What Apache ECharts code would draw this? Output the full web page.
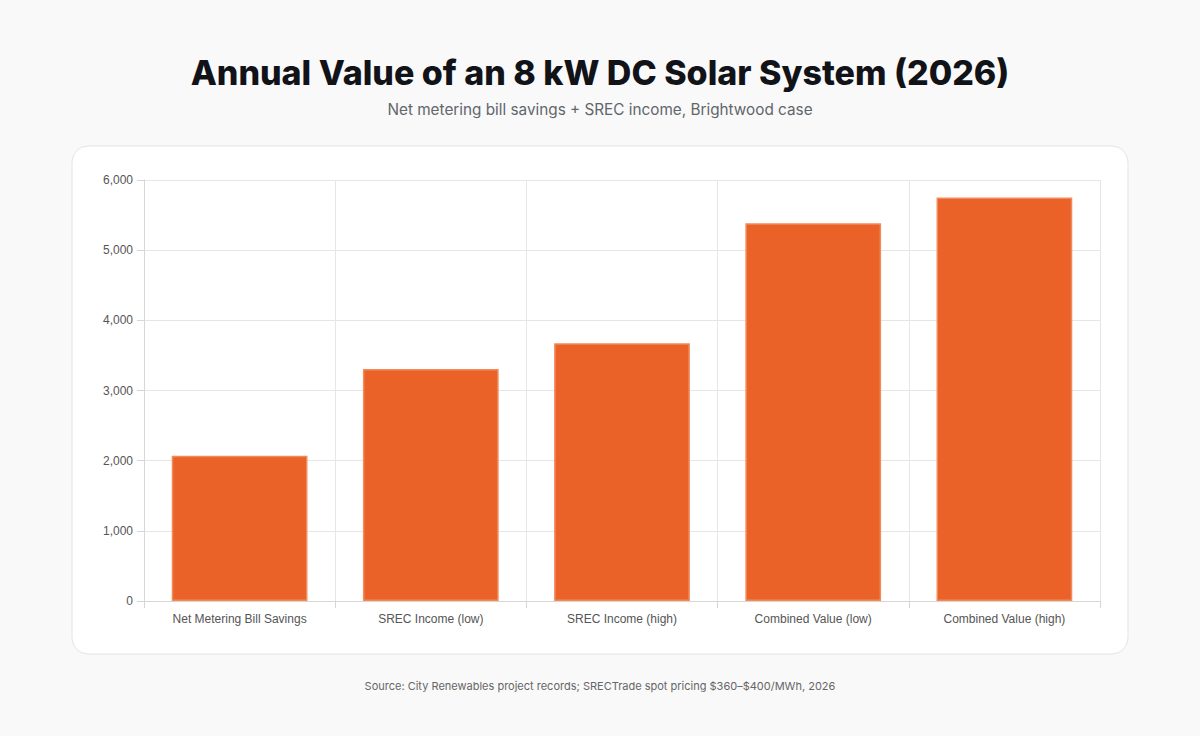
<!DOCTYPE html>
<html>
<head>
<meta charset="utf-8">
<script src="https://cdn.jsdelivr.net/npm/echarts@6/dist/echarts.min.js"></script>
<style>
  html, body { margin: 0; padding: 0; background: #f9f9f9; }
  #chart { width: 1200px; height: 736px; }
</style>
</head>
<body>
<div id="chart"></div>
<script>
const categories = ['Net Metering Bill Savings', 'SREC Income (low)', 'SREC Income (high)', 'Combined Value (low)', 'Combined Value (high)']
const values = [2070, 3305, 3672, 5385, 5750]
const yTicks = { min: 0, max: 6000, interval: 1000 }

const font = 'Inter, "Noto Sans", sans-serif'
const chart = echarts.init(document.getElementById('chart'), null, { renderer: 'svg' })

chart.setOption({
  backgroundColor: '#f9f9f9',
  title: [
    {
      text: 'Annual Value of an 8 kW DC Solar System (2026)',
      left: 'center',
      top: 50,
      textStyle: { fontFamily: font, fontSize: 34, fontWeight: 800, color: '#111318' }
    },
    {
      text: 'Net metering bill savings + SREC income, Brightwood case',
      left: 'center',
      top: 97,
      textStyle: { fontFamily: font, fontSize: 15.3, fontWeight: 400, color: '#62666b' }
    },
    {
      text: 'Source: City Renewables project records; SRECTrade spot pricing $360–$400/MWh, 2026',
      left: 'center',
      top: 675,
      textStyle: { fontFamily: font, fontSize: 11, fontWeight: 400, color: '#666' }
    }
  ],
  graphic: [{
    type: 'rect',
    z: -10,
    shape: { x: 72, y: 146, width: 1056, height: 508, r: 16 },
    style: { fill: '#ffffff', stroke: '#e3e3e3', lineWidth: 1 }
  }],
  grid: { left: 144, right: 100, top: 180, bottom: 135, containLabel: false },
  xAxis: {
    type: 'category',
    data: categories,
    axisLine: { show: true, lineStyle: { color: '#d6d6d6' } },
    axisTick: { show: true, length: 7, lineStyle: { color: '#d6d6d6' } },
    splitLine: { show: true, lineStyle: { color: '#e6e6e6' } },
    axisLabel: { fontFamily: 'Helvetica, Arial, "Liberation Sans", sans-serif', fontSize: 12, color: '#555', margin: 12 }
  },
  yAxis: {
    type: 'value',
    min: yTicks.min,
    max: yTicks.max,
    interval: yTicks.interval,
    axisLine: { show: true, lineStyle: { color: '#d6d6d6' } },
    axisTick: { show: true, length: 7, lineStyle: { color: '#d6d6d6' } },
    splitLine: { show: true, lineStyle: { color: '#e6e6e6' } },
    axisLabel: {
      fontFamily: 'Helvetica, Arial, "Liberation Sans", sans-serif',
      fontSize: 12,
      color: '#555',
      margin: 11,
      formatter: (v) => v.toLocaleString('en-US')
    }
  },
  series: [{
    type: 'bar',
    data: values,
    barWidth: '71%',
    itemStyle: { color: '#eb6228', borderColor: '#f28b5c', borderWidth: 1.5 },
    silent: true
  }]
})
</script>
</body>
</html>
